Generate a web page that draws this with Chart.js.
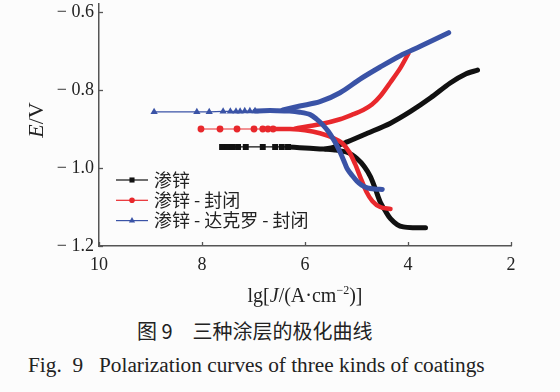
<!DOCTYPE html>
<html>
<head>
<meta charset="utf-8">
<script src="https://cdn.jsdelivr.net/npm/chart.js@4.4.1/dist/chart.umd.min.js"></script>
<style>
  html, body { margin: 0; padding: 0; background: #fcfcfc; }
  #wrap { position: relative; width: 560px; height: 392px; overflow: hidden; }
  #chart { position: absolute; left: 0; top: 0; }
  .cap { position: absolute; white-space: nowrap; color: #222; line-height: 22px; }
  #capZh { left: 137px; top: 320px; font-size: 20px; font-family: "Noto Sans CJK SC"; }
  #capEn { left: 28px; top: 354px; font-size: 21.3px; font-family: "Liberation Serif"; }
</style>
</head>
<body>
<div id="wrap">
  <canvas id="chart" width="560" height="310"></canvas>
  <div class="cap" id="capZh">图 9　三种涂层的极化曲线</div>
  <div class="cap" id="capEn">Fig.&nbsp; 9&nbsp;&nbsp; Polarization curves of three kinds of coatings</div>
</div>
<script>
'use strict'

// legend names
const seriesNames = ['渗锌', '渗锌 - 封闭', '渗锌 - 达克罗 - 封闭']

// axis ticks
const xTicks = [10, 8, 6, 4, 2]
const yTicks = [-1.2, -1.0, -0.8, -0.6]

// [lgJ, E]
// 渗锌
const zincFlat = [[7.61, -0.946], [7.51, -0.946], [7.41, -0.946], [7.30, -0.946], [7.15, -0.946], [6.82, -0.946], [6.58, -0.946], [6.45, -0.946], [6.33, -0.946]]
const zincCathodic = [[3.66, -1.153], [3.89, -1.153], [4.09, -1.151], [4.21, -1.145], [4.34, -1.130], [4.44, -1.110], [4.54, -1.087], [4.63, -1.055], [4.73, -1.022], [4.85, -0.996], [4.99, -0.976], [5.16, -0.961], [5.42, -0.954], [5.71, -0.951], [6.10, -0.948], [6.33, -0.946]]
const zincAnodic = [[5.60, -0.951], [5.45, -0.947], [5.18, -0.933], [4.79, -0.911], [4.34, -0.885], [3.95, -0.855], [3.56, -0.820], [3.18, -0.782], [2.88, -0.759], [2.65, -0.749]]

// 渗锌 - 封闭
const sealFlat = [[8.02, -0.900], [7.65, -0.900], [7.32, -0.900], [6.99, -0.900], [6.82, -0.900], [6.72, -0.900], [6.62, -0.900]]
const sealCathodic = [[4.34, -1.105], [4.54, -1.100], [4.69, -1.085], [4.81, -1.060], [4.93, -1.022], [5.03, -0.989], [5.14, -0.959], [5.28, -0.936], [5.45, -0.923], [5.71, -0.911], [6.00, -0.903], [6.29, -0.900], [6.62, -0.900]]
const sealAnodic = [[6.20, -0.899], [5.71, -0.888], [5.32, -0.875], [5.06, -0.862], [4.87, -0.851], [4.70, -0.837], [4.54, -0.816], [4.34, -0.780], [4.15, -0.744], [3.99, -0.706]]

// 渗锌 - 达克罗 - 封闭
const dacroFlat = [[8.93, -0.856], [8.10, -0.856], [7.86, -0.856], [7.59, -0.855], [7.45, -0.855], [7.34, -0.855], [7.26, -0.855], [7.17, -0.854], [7.07, -0.854], [6.97, -0.854]]
const dacroCathodic = [[4.50, -1.055], [4.65, -1.054], [4.79, -1.051], [4.90, -1.044], [4.99, -1.034], [5.08, -1.020], [5.18, -1.002], [5.25, -0.980], [5.32, -0.959], [5.39, -0.940], [5.45, -0.926], [5.55, -0.906], [5.65, -0.890], [5.78, -0.874], [5.90, -0.863], [6.10, -0.857], [6.30, -0.854], [6.55, -0.853], [6.80, -0.853], [6.97, -0.854]]
const dacroAnodic = [[6.43, -0.851], [6.10, -0.841], [5.71, -0.830], [5.32, -0.807], [4.93, -0.772], [4.54, -0.741], [4.15, -0.712], [3.76, -0.688], [3.21, -0.653]]

const colors = ['#111111', '#e8282c', '#3a53a6']
const markers = ['rect', 'circle', 'triangle']
const markerSize = [4.2, 3.4, 4.2]
const axisColor = '#555'

const toXY = arr => arr.map(p => ({ x: p[0], y: p[1] }))

const groups = [
  [zincFlat, zincCathodic, zincAnodic],
  [sealFlat, sealCathodic, sealAnodic],
  [dacroFlat, dacroCathodic, dacroAnodic]
]

const datasets = []
groups.forEach((g, i) => {
  const order = 3 - i
  // dense parts of the scan: thick line
  ;[g[1], g[2]].forEach(part => {
    datasets.push({
      label: seriesNames[i],
      data: toXY(part),
      showLine: true,
      borderColor: colors[i],
      borderWidth: i === 1 ? 4.5 : 5,
      borderCapStyle: 'round',
      borderJoinStyle: 'round',
      tension: 0.3,
      pointRadius: 0,
      order
    })
  })
  // sparse points near Ecorr: thin line + markers
  datasets.push({
    label: seriesNames[i],
    data: toXY(g[0]),
    showLine: true,
    borderColor: colors[i],
    backgroundColor: colors[i],
    borderWidth: 1.2,
    pointStyle: markers[i],
    pointRadius: markerSize[i],
    pointBorderWidth: 0,
    order
  })
})

// draw runs of text with mixed styles
function drawRuns(ctx, runs, x, y) {
  let w = 0
  runs.forEach(r => { ctx.font = r.font; w += ctx.measureText(r.t).width })
  let cx = x - w / 2
  runs.forEach(r => {
    ctx.font = r.font
    ctx.fillText(r.t, cx, y + (r.dy || 0))
    cx += ctx.measureText(r.t).width
  })
}

const decor = {
  id: 'decor',
  afterDraw(chart) {
    const { ctx, chartArea: a, scales: { x, y } } = chart
    ctx.save()
    // inside tick marks
    ctx.strokeStyle = axisColor
    ctx.lineWidth = 1.3
    xTicks.forEach(v => {
      const px = Math.round(x.getPixelForValue(v)) + 0.5
      ctx.beginPath(); ctx.moveTo(px, a.bottom); ctx.lineTo(px, a.bottom - 4); ctx.stroke()
    })
    yTicks.forEach(v => {
      const py = Math.round(y.getPixelForValue(v)) + 0.5
      ctx.beginPath(); ctx.moveTo(a.left, py); ctx.lineTo(a.left + 4, py); ctx.stroke()
    })

    // axis titles
    ctx.fillStyle = '#222'
    ctx.textBaseline = 'middle'
    const serif = '20px "Liberation Serif"'
    const serifIt = 'italic 20px "Liberation Serif"'
    drawRuns(ctx, [
      { t: 'lg[', font: serif },
      { t: 'J', font: serifIt },
      { t: '/(A\u00b7cm', font: serif },
      { t: '\u22122', font: '12px "Liberation Serif"', dy: -6 },
      { t: ')]', font: serif }
    ], (a.left + a.right) / 2, 297)

    ctx.save()
    ctx.translate(37, 120)
    ctx.rotate(-Math.PI / 2)
    drawRuns(ctx, [
      { t: 'E', font: 'italic 22px "Liberation Serif"' },
      { t: '/V', font: '22px "Liberation Serif"' }
    ], 0, 0)
    ctx.restore()

    // legend
    seriesNames.forEach((name, i) => {
      const ly = 180 + 20.3 * i
      ctx.strokeStyle = colors[i]
      ctx.fillStyle = colors[i]
      ctx.lineWidth = 1.2
      ctx.beginPath(); ctx.moveTo(116, ly); ctx.lineTo(148, ly); ctx.stroke()
      Chart.helpers.drawPoint(ctx, { pointStyle: markers[i], radius: markerSize[i] - 0.6, rotation: 0, borderWidth: 0 }, 132, ly)
      ctx.fillStyle = '#222'
      ctx.font = '18px "Noto Sans CJK SC"'
      ctx.textAlign = 'left'
      ctx.fillText(name, 154, ly)
    })
    ctx.restore()
  }
}

const tickFont = { family: 'Liberation Serif', size: 18 }

new Chart(document.getElementById('chart'), {
  type: 'scatter',
  data: { datasets },
  options: {
    responsive: false,
    devicePixelRatio: 1,
    animation: false,
    layout: { padding: { top: 0, right: 49, bottom: 0, left: 0 } },
    plugins: {
      legend: { display: false },
      tooltip: { enabled: false }
    },
    scales: {
      x: {
        type: 'linear',
        reverse: true,
        min: 2,
        max: 10,
        afterBuildTicks: s => { s.ticks = xTicks.map(v => ({ value: v })) },
        afterFit: s => { s.height = 64; s.paddingLeft = 0; s.paddingRight = 0 },
        grid: { drawOnChartArea: false, drawTicks: false },
        border: { color: axisColor, width: 1.5 },
        ticks: { font: tickFont, color: '#222', padding: 8, maxRotation: 0 }
      },
      y: {
        type: 'linear',
        min: -1.2,
        max: -0.58,
        afterBuildTicks: s => { s.ticks = yTicks.map(v => ({ value: v })) },
        afterFit: s => { s.width = 99; s.paddingTop = 0; s.paddingBottom = 0 },
        grid: { drawOnChartArea: false, drawTicks: false },
        border: { color: axisColor, width: 1.5 },
        ticks: {
          font: tickFont,
          color: '#222',
          padding: 5,
          callback: v => '\u2212 ' + Math.abs(v).toFixed(1)
        }
      }
    }
  },
  plugins: [decor]
})
</script>
</body>
</html>
